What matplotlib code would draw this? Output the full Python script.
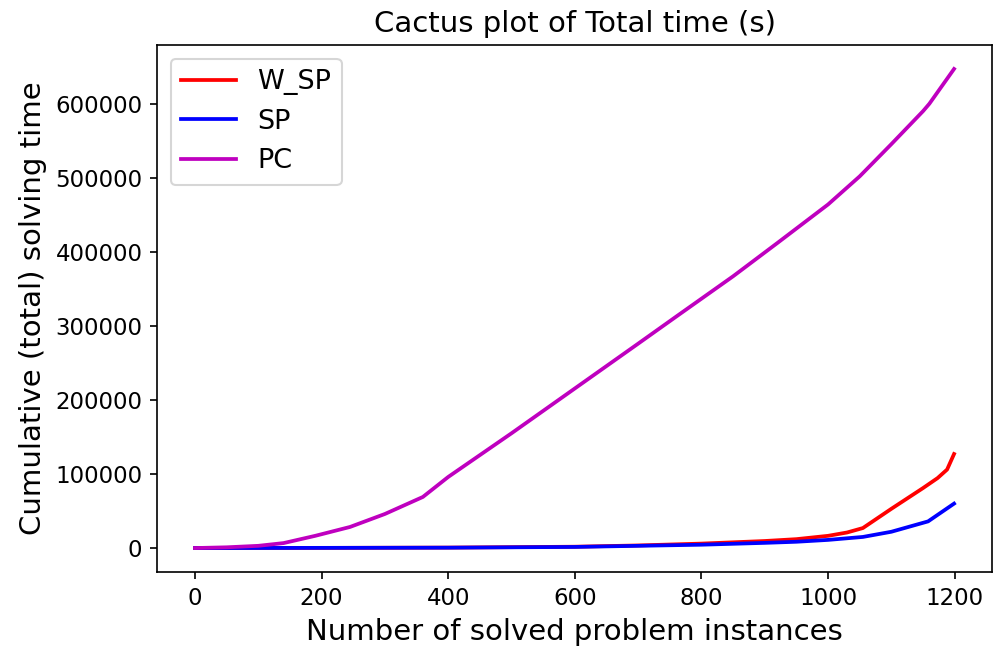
import matplotlib
matplotlib.use("Agg")
import matplotlib.pyplot as plt

w_sp_x = [0, 200, 400, 600, 700, 800, 900, 950, 1000, 1030, 1055, 1100, 1150, 1173, 1188, 1199]
w_sp_y = [0, 200, 600, 1800, 3500, 6000, 9500, 12000, 16500, 21000, 27000, 53000, 81000, 94500, 106000, 127000]

sp_x = [0, 400, 600, 800, 900, 950, 1000, 1055, 1100, 1158, 1199]
sp_y = [0, 500, 1500, 4500, 7000, 8500, 11000, 15000, 22000, 36000, 60000]

pc_x = [0, 50, 100, 140, 190, 245, 300, 360, 400, 500, 600, 700, 760, 850, 920, 1000, 1050, 1100, 1150, 1160, 1199]
pc_y = [0, 1000, 3000, 6700, 16500, 28500, 46000, 69000, 96000, 155000, 215500, 276000, 312500, 367000, 412000, 464000, 502000, 545500, 590000, 600000, 647000]

fig = plt.figure(figsize=(993/150, 650/150), dpi=150)
ax = fig.add_axes([157/993, 1-572/650, (992-157)/993, (572-45)/650])
ax.plot(w_sp_x, w_sp_y, color='r', lw=1.8, label='W_SP')
ax.plot(sp_x, sp_y, color='b', lw=1.8, label='SP')
ax.plot(pc_x, pc_y, color='m', lw=1.8, label='PC')
ax.set_title('Cactus plot of Total time (s)', fontsize=14)
ax.set_xlabel('Number of solved problem instances', fontsize=14)
ax.set_ylabel('Cumulative (total) solving time', fontsize=14)
ax.tick_params(labelsize=11)
ax.legend(fontsize=13, loc='upper left')
fig.savefig('out.png', dpi=150)
